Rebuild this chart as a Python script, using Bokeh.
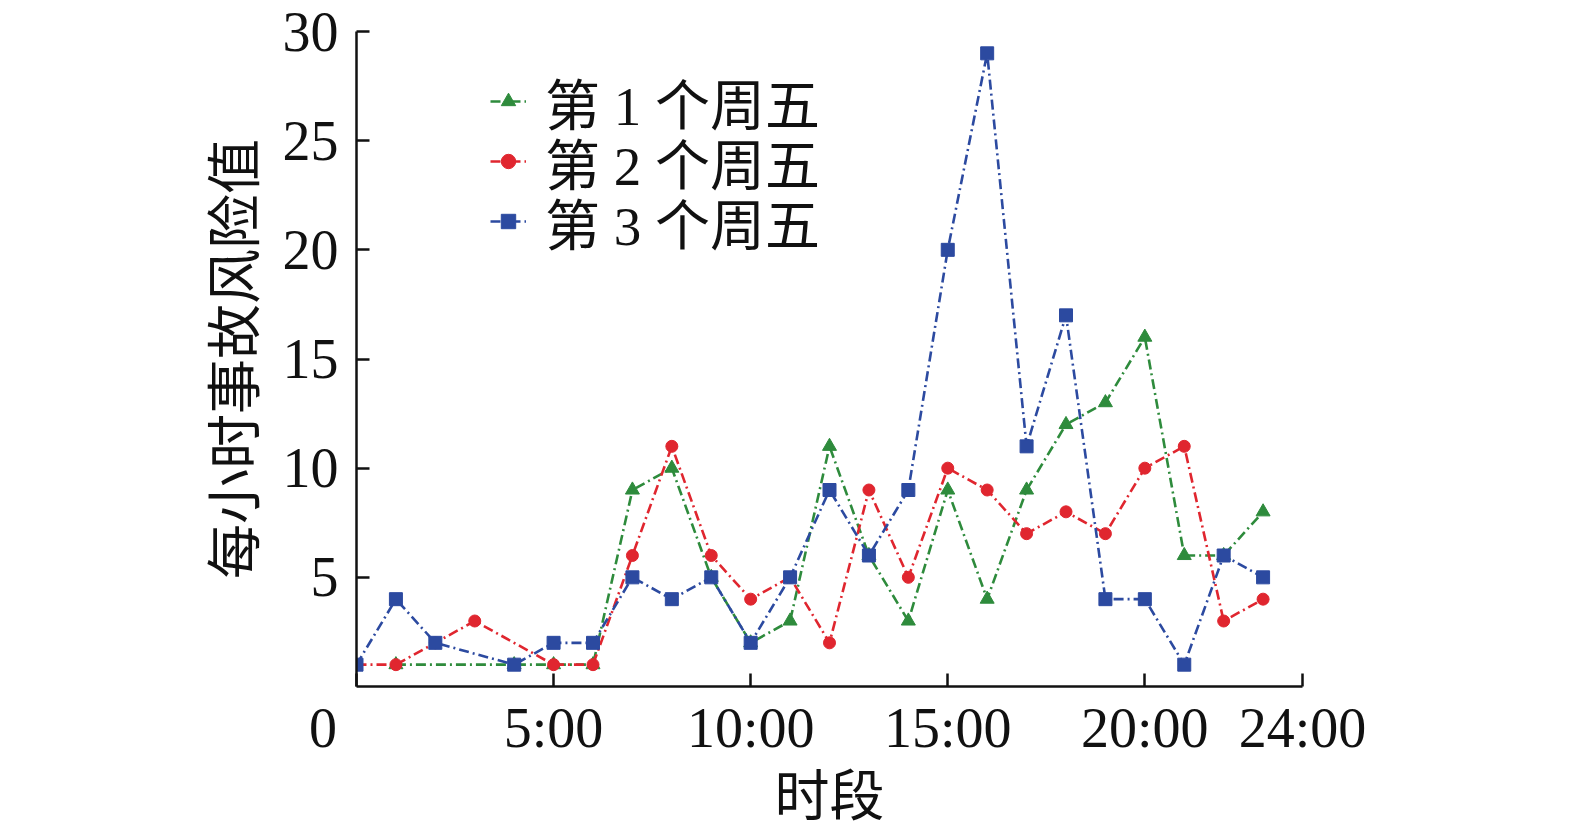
from bokeh.plotting import figure
from bokeh.models import Legend, LegendItem, FixedTicker
from bokeh.embed import file_html
from bokeh.resources import INLINE

# ---- data ----
hours_1 = [1, 4, 5, 6, 7, 8, 9, 10, 11, 12, 13, 14, 15, 16, 17, 18, 19, 20, 21, 22, 23]
vals_1 = [1, 1, 1, 1, 9, 10, 5, 2, 3, 11, 6, 3, 9, 4, 9, 12, 13, 16, 6, 6, 8]

hours_2 = [0, 1, 2, 3, 5, 6, 7, 8, 9, 10, 11, 12, 13, 14, 15, 16, 17, 18, 19, 20, 21, 22, 23]
vals_2 = [1, 1, 2, 3, 1, 1, 6, 11, 6, 4, 5, 2, 9, 5, 10, 9, 7, 8, 7, 10, 11, 3, 4]

hours_3 = [0, 1, 2, 4, 5, 6, 7, 8, 9, 10, 11, 12, 13, 14, 15, 16, 17, 18, 19, 20, 21, 22, 23]
vals_3 = [1, 4, 2, 1, 2, 2, 5, 4, 5, 2, 5, 9, 6, 9, 20, 29, 11, 17, 4, 4, 1, 6, 5]

series_names = ["第 1 个周五", "第 2 个周五", "第 3 个周五"]
x_ticks = [0, 5, 10, 15, 20, 24]
# the origin "0" sits left of the corner in the original; trailing em/thin spaces shift it
x_tick_labels = ["0\u2003\u2009", "5:00", "10:00", "15:00", "20:00", "24:00"]
y_ticks = [5, 10, 15, 20, 25, 30]
x_title = "时段"
y_title = "每小时事故风险值"

FONT = "Liberation Serif, Noto Sans CJK SC"
GREEN = "#2e8b3c"
RED = "#e0262f"
BLUE = "#2c4aa0"
DASH = "10 4 2 4"

p = figure(frame_width=946, frame_height=655, x_range=(0, 24), y_range=(0, 30),
           output_backend="svg", toolbar_location=None,
           min_border_left=356, min_border_right=253,
           min_border_top=31, min_border_bottom=20)
p.outline_line_color = None
p.grid.visible = False
p.background_fill_color = "white"

r1l = p.line(hours_1, vals_1, line_color=GREEN, line_width=2.6, line_dash=DASH)
r1m = p.scatter(hours_1, vals_1, marker="triangle", size=14, fill_color=GREEN, line_color=GREEN)
r2l = p.line(hours_2, vals_2, line_color=RED, line_width=2.6, line_dash=DASH)
r2m = p.scatter(hours_2, vals_2, marker="circle", size=12, fill_color=RED, line_color=RED)
r3l = p.line(hours_3, vals_3, line_color=BLUE, line_width=2.6, line_dash=DASH)
r3m = p.scatter(hours_3, vals_3, marker="square", size=13, fill_color=BLUE, line_color=BLUE)

for ax in (p.xaxis[0], p.yaxis[0]):
    ax.axis_line_width = 2.5
    ax.axis_line_color = "#111111"
    ax.major_tick_line_width = 2.5
    ax.major_tick_line_color = "#111111"
    ax.major_tick_in = 13
    ax.major_tick_out = 0
    ax.minor_tick_line_color = None
    ax.major_label_text_font = FONT
    ax.major_label_text_font_size = "56px"
    ax.major_label_text_color = "#111111"
    ax.axis_label_text_font = FONT
    ax.axis_label_text_font_size = "55px"
    ax.axis_label_text_font_style = "normal"
    ax.axis_label_text_color = "#111111"

p.xaxis.ticker = FixedTicker(ticks=x_ticks)
p.xaxis.major_label_overrides = {t: l for t, l in zip(x_ticks, x_tick_labels)}
p.xaxis.major_label_standoff = 10
p.xaxis.axis_label = x_title
p.xaxis.axis_label_standoff = 4

p.yaxis.ticker = FixedTicker(ticks=y_ticks)
p.yaxis.major_label_standoff = 18
p.yaxis.axis_label = y_title
p.yaxis.axis_label_standoff = 14

# one legend per row so the rows sit at the original spacing
renderers = [[r1l, r1m], [r2l, r2m], [r3l, r3m]]
row_y = [545, 485, 425]
for name, rs, ly in zip(series_names, renderers, row_y):
    lg = Legend(items=[LegendItem(label=name, renderers=rs)], location=(134, ly))
    lg.label_text_font = FONT
    lg.label_text_font_size = "55px"
    lg.label_text_color = "#111111"
    lg.border_line_color = None
    lg.background_fill_alpha = 0
    lg.padding = 0
    lg.spacing = 0
    lg.margin = 0
    lg.glyph_width = 36
    lg.glyph_height = 80
    lg.label_height = 80
    lg.label_standoff = 19
    p.add_layout(lg)

open("out.html", "w").write(file_html(p, INLINE))
